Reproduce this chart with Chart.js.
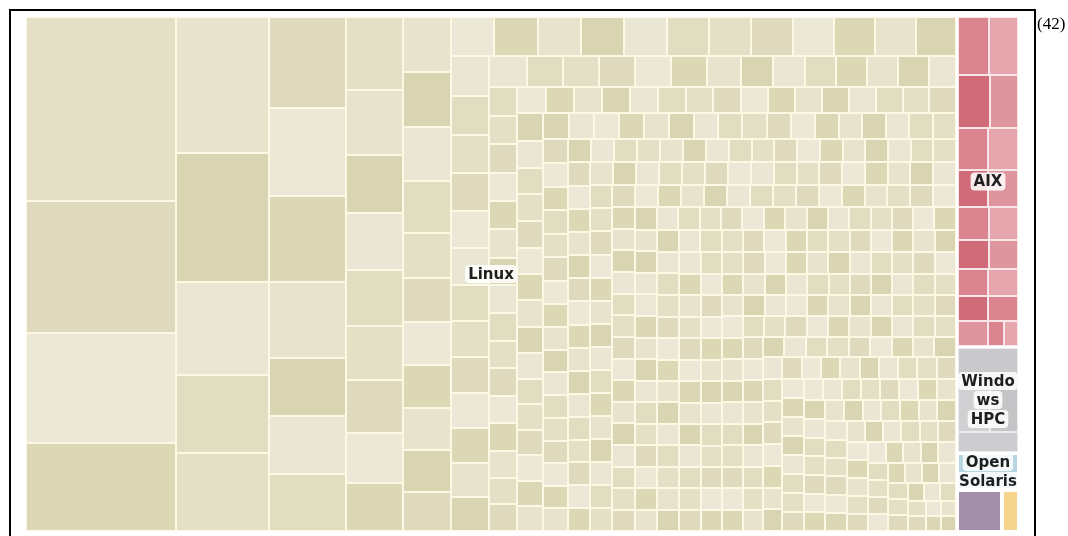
<!DOCTYPE html>
<html>
<head>
<meta charset="utf-8">
<script src="https://cdn.jsdelivr.net/npm/chart.js@4.4.0/dist/chart.umd.min.js"></script>
<style>
  html, body { margin: 0; padding: 0; background: #fff; }
  canvas { display: block; }
</style>
</head>
<body>
<canvas id="grafico" width="1068" height="536"></canvas>
<script>
// treemap of operating systems, one cell per system
const groupNames = ["Linux", "AIX", "Windows HPC", "Open Solaris", "Other", "BSD"];
const labelledGroups = ["Linux", "AIX", "Windows HPC", "Open Solaris"];
const listNumber = "(42)";

const linuxLarge = [27600, 19800, 16500, 13200, 12648, 11997, 8649, 7254, 7254,
  7007, 6776, 6622, 5852, 4466, 4466, 4389, 4161, 3705, 3306, 3249, 3192, 3078,
  3021, 2850, 2736, 2640, 2640, 2592, 2496, 2160, 2112, 2064, 2064, 2016, 2016, 1872];
const linuxMid = [1700, 1690, 1680, 1670, 1650, 1640, 1630, 1620, 1610, 1600, 1570, 1557,
  1520, 1482, 1444, 1444, 1406, 1406, 1368, 1368, 1368, 1330, 1330, 1292, 1292,
  1178, 1116, 1116, 1116, 1116, 1085, 1054, 992, 992, 961, 961, 961, 930, 837,
  830, 825, 820, 815, 810, 805, 800, 800, 795, 790, 790, 785, 780, 775, 770];
const linuxSmallA = [765, 760, 757, 752, 748, 745, 741, 738, 735, 731, 728, 724, 720, 717,
  713, 710, 706, 702, 699, 695, 692, 688, 684, 681, 677, 674, 670, 666, 663, 659, 655,
  652, 648, 645, 641, 637, 634, 630, 627, 623, 619, 616, 612, 609, 605, 601, 598, 594,
  590, 587, 583, 580, 576, 572, 569, 565, 561];
const linuxSmallB = [558, 557, 555, 554, 553, 551, 550, 549, 548, 547, 546, 545, 544, 543,
  542, 541, 540, 539, 538, 537, 536, 535, 534, 534, 533, 532, 531, 530, 530, 529, 528,
  527, 527, 526, 525, 525, 524, 523, 523, 522, 522, 521, 520, 520, 519, 519, 518, 518,
  517, 517, 516, 516, 515, 515, 514, 514, 513, 513, 512, 512, 511, 511, 510, 510, 509,
  509, 508, 508, 507];
const linuxSmallC = [507, 506, 506, 505, 505, 504, 504, 503, 503, 502, 502, 501, 501, 500,
  500, 499, 499, 498, 498, 497, 497, 496, 496, 495, 495, 494, 494, 493, 493, 492, 492,
  491, 491, 490, 490, 490, 489, 489, 488, 488, 488, 487, 487, 486, 486, 486, 485, 485,
  484, 484, 484, 483, 483, 482, 482, 482, 481, 481, 480, 480, 480, 479, 479, 478, 478, 478];
const linuxSmallD = [477, 477, 476, 476, 476, 475, 475, 474, 474, 474, 473, 473, 473, 472,
  472, 471, 471, 471, 470, 470, 470, 469, 469, 468, 468, 468, 467, 467, 467, 466, 466,
  466, 465, 465, 465, 464, 464, 464, 463, 463, 463, 462, 462, 462, 461, 461, 461, 460,
  460, 460, 459, 459, 459, 458, 458, 458, 457, 457];
const linuxSmallE = [456, 456, 455, 455, 455, 454, 454, 453, 453, 453, 452, 452, 451, 451,
  451, 450, 450, 449, 449, 449, 448, 448, 447, 447, 447, 446, 446, 445, 445, 445, 444,
  444, 443, 443, 443, 442, 442, 441, 441, 441, 440, 440, 439, 439, 439, 438, 438, 437, 437, 436];
const linuxSmallF = [435, 434, 434, 433, 432, 432, 431, 430, 430, 429, 428, 428, 427, 426,
  426, 425, 424, 424, 423, 422, 422, 421, 420, 420, 419, 418, 418, 417, 416, 416, 415,
  414, 414, 413, 412, 412, 411, 410, 410, 409, 408];
const linuxSmallG = [407, 406, 406, 405, 404, 404, 403, 402, 402, 401, 400, 400, 399, 398,
  398, 397, 396, 396, 395, 394, 394, 393, 392, 392, 391, 390, 390, 389, 388, 388, 387,
  385, 382, 379, 376, 373, 370, 367, 364, 361, 358, 355, 352, 349, 346, 343, 340, 336,
  332, 328, 324, 320, 312, 300, 290, 280, 268, 256, 244, 232, 220, 210];

const aixValues = [1870, 1767, 1767, 1540, 1302, 1302, 1150, 1150, 1056, 990, 928, 870,
  832, 832, 806, 780, 780, 442, 364];
const windowsValues = [2100, 1700, 1500, 1228];
const solarisValues = [2304];
const otherValues = [1900];
const bsdValues = [700];

const linuxValues = [].concat(linuxLarge, linuxMid, linuxSmallA, linuxSmallB, linuxSmallC,
  linuxSmallD, linuxSmallE, linuxSmallF, linuxSmallG);
const groupValues = [linuxValues, aixValues, windowsValues, solarisValues, otherValues, bsdValues];

const cellColors = {
  "Linux": ["#e7e3cc", "#dfdabd", "#e9e6d3", "#dcd7b5", "#e4e0c6", "#d9d4b1", "#ebe8d8", "#e1ddc1"],
  "AIX": ["#d9848f", "#e6a6ae", "#d06b79", "#df959e"],
  "Windows HPC": ["#c9c9cb", "#d1d1d3", "#c5c5c7", "#cdcdcf"],
  "Open Solaris": ["#b5d5e0"],
  "Other": ["#a48fab"],
  "BSD": ["#f6d68c"],
};
const gapColors = {
  "Linux": "#fcf8e3", "AIX": "#f9e6e8", "Windows HPC": "#ececee",
  "Open Solaris": "#ffffff", "Other": "#ffffff", "BSD": "#ffffff",
};

function sum(arr) {
  return arr.reduce((a, b) => a + b, 0);
}

function worst(row, side) {
  const s = sum(row);
  const mx = Math.max(...row);
  const mn = Math.min(...row);
  return Math.max((side * side * mx) / (s * s), (s * s) / (side * side * mn));
}

// squarified layout, returns rects in data units
function squarify(values, x, y, w, h) {
  const items = values.map((v, i) => ({ v, i })).sort((a, b) => b.v - a.v);
  const scale = (w * h) / sum(values);
  const areas = items.map((it) => it.v * scale);
  const rects = [];
  let i = 0;
  while (i < areas.length) {
    const side = Math.min(w, h);
    let row = [areas[i]];
    let j = i + 1;
    let best = worst(row, side);
    while (j < areas.length) {
      const next = row.concat(areas[j]);
      const r = worst(next, side);
      if (r > best) break;
      row = next;
      best = r;
      j++;
    }
    const s = sum(row);
    if (w >= h) {
      const t = s / h;
      let yy = y;
      row.forEach((a, k) => {
        const hh = a / t;
        rects.push({ x, y: yy, w: t, h: hh, index: items[i + k].i });
        yy += hh;
      });
      x += t;
      w -= t;
    } else {
      const t = s / w;
      let xx = x;
      row.forEach((a, k) => {
        const ww = a / t;
        rects.push({ x: xx, y, w: ww, h: t, index: items[i + k].i });
        xx += ww;
      });
      y += t;
      h -= t;
    }
    i = j;
  }
  return rects;
}

function shadeIndex(i, n) {
  return (Math.imul(i + 1, 2654435761) >>> 29) % n;
}

function toPixels(r, xs, ys, inset) {
  const x0 = Math.round(xs.getPixelForValue(r.x) + inset);
  const x1 = Math.round(xs.getPixelForValue(r.x + r.w) - inset);
  const y0 = Math.round(ys.getPixelForValue(r.y) + inset);
  const y1 = Math.round(ys.getPixelForValue(r.y + r.h) - inset);
  return { x: x0, y: y0, w: x1 - x0, h: y1 - y0 };
}

function wrapLabel(ctx, text, maxW) {
  const lines = [];
  let current = "";
  text.split(" ").forEach((word) => {
    const trial = current ? current + " " + word : word;
    if (ctx.measureText(trial).width <= maxW) {
      current = trial;
      return;
    }
    if (current) lines.push(current);
    current = "";
    let piece = "";
    for (const ch of word) {
      if (ctx.measureText(piece + ch).width > maxW && piece) {
        lines.push(piece);
        piece = ch;
      } else {
        piece += ch;
      }
    }
    current = piece;
  });
  if (current) lines.push(current);
  return lines;
}

let groupRects = [];

const treemapPlugin = {
  id: "treemapCells",
  beforeDatasetsDraw(chart) {
    const { ctx, scales: { x, y } } = chart;
    const totals = groupValues.map(sum);
    groupRects = squarify(totals, x.min, y.min, x.max - x.min, y.max - y.min);
    ctx.save();
    groupRects.forEach((g) => {
      const name = groupNames[g.index];
      const gp = toPixels(g, x, y, 1);
      ctx.fillStyle = gapColors[name];
      ctx.fillRect(gp.x, gp.y, gp.w, gp.h);
      const cells = squarify(groupValues[g.index], g.x + 1, g.y + 1, g.w - 2, g.h - 2);
      const palette = cellColors[name];
      cells.forEach((c) => {
        const p = toPixels(c, x, y, 1);
        ctx.fillStyle = palette[shadeIndex(c.index, palette.length)];
        ctx.fillRect(p.x, p.y, p.w, p.h);
      });
    });
    ctx.restore();
  },
  afterDraw(chart) {
    const { ctx, scales: { x, y } } = chart;
    ctx.save();
    ctx.font = 'bold 15px "DejaVu Sans"';
    ctx.textAlign = "center";
    ctx.textBaseline = "middle";
    groupRects.forEach((g) => {
      const name = groupNames[g.index];
      if (!labelledGroups.includes(name)) return;
      const gp = toPixels(g, x, y, 1);
      const lines = wrapLabel(ctx, name, gp.w - 2);
      const lineH = 19;
      const cx = gp.x + gp.w / 2;
      const cy = gp.y + gp.h / 2;
      lines.forEach((line, k) => {
        const ly = cy + (k - (lines.length - 1) / 2) * lineH;
        const tw = ctx.measureText(line).width;
        ctx.fillStyle = "rgba(255,255,255,0.85)";
        ctx.beginPath();
        ctx.roundRect(cx - tw / 2 - 3, ly - 9, tw + 6, 18, 4);
        ctx.fill();
        ctx.fillStyle = "#1e1e1e";
        ctx.fillText(line, cx, ly + 1);
      });
    });

    // page frame and list number
    ctx.fillStyle = "#000";
    ctx.fillRect(9, 9, 2, 527);
    ctx.fillRect(9, 9, 1027, 2);
    ctx.fillRect(1034, 9, 2, 527);
    ctx.font = '17px "Liberation Serif"';
    ctx.textAlign = "left";
    ctx.textBaseline = "alphabetic";
    ctx.fillText(listNumber, 1037, 29);
    ctx.restore();
  },
};

new Chart(document.getElementById("grafico").getContext("2d"), {
  type: "scatter",
  data: { datasets: [{ data: [] }] },
  options: {
    responsive: false,
    animation: false,
    devicePixelRatio: 1,
    layout: { padding: { left: 25, top: 16, right: 49, bottom: 4 } },
    scales: {
      x: { type: "linear", min: 0, max: 994, display: false },
      y: { type: "linear", min: 0, max: 516, reverse: true, display: false },
    },
    plugins: { legend: { display: false }, tooltip: { enabled: false } },
  },
  plugins: [treemapPlugin],
});
</script>
</body>
</html>
